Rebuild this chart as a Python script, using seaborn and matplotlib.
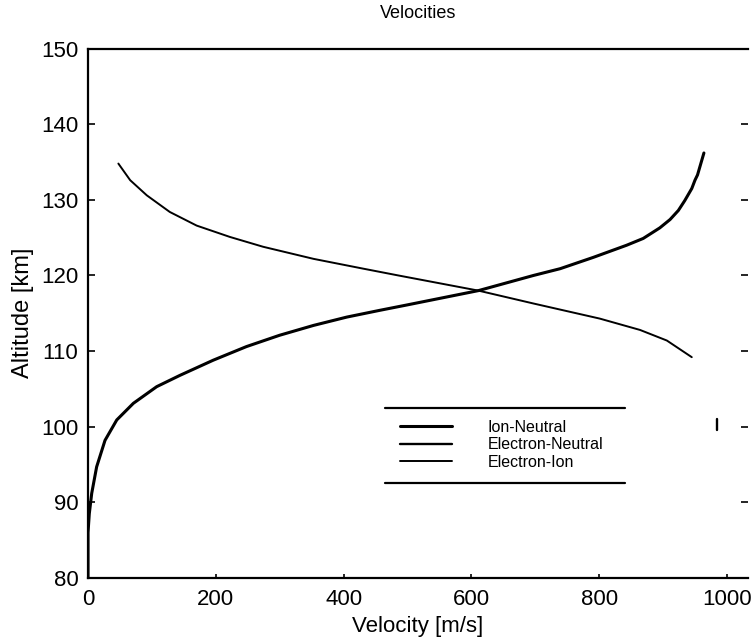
import matplotlib
matplotlib.use("Agg")
import matplotlib.pyplot as plt
import seaborn as sns
import pandas as pd

sns.set_theme(style="white")
plt.rcParams['font.family'] = ['Liberation Sans', 'DejaVu Sans']
plt.rcParams['text.color'] = 'black'
plt.rcParams['axes.labelcolor'] = 'black'

# Ion-Neutral (rising curve)
ion_neutral_v = [0, 0, 2, 5.8, 13.5, 26.6, 45, 71, 107.5, 144, 196, 248, 300, 353, 405,
                 457, 499, 611, 697, 739, 791, 843, 869, 895, 911, 924, 934, 945, 950,
                 954, 964]
ion_neutral_alt = [80, 86, 88.5, 91.2, 94.7, 98.2, 100.9, 103.1, 105.3, 106.8, 108.8, 110.6,
                   112.1, 113.4, 114.5, 115.4, 116.1, 118.0, 120.0, 120.9, 122.4, 124.0,
                   124.9, 126.3, 127.4, 128.6, 129.9, 131.5, 132.6, 133.3, 136.2]

# Electron-Ion (falling curve)
electron_ion_v = [47.5, 66, 92, 128, 170, 222, 274, 353, 431, 486, 611, 697, 801, 864, 906, 945]
electron_ion_alt = [134.8, 132.6, 130.6, 128.4, 126.6, 125.1, 123.8, 122.2, 120.9, 120.0,
                    118.0, 116.3, 114.3, 112.8, 111.4, 109.2]

# Electron-Neutral (only a small fragment survives in the scan)
electron_neutral_v = [984, 984]
electron_neutral_alt = [99.6, 101.0]

x_ticks = [0, 200, 400, 600, 800, 1000]
y_ticks = [80, 90, 100, 110, 120, 130, 140, 150]

fig = plt.figure(figsize=(7.51, 6.44), dpi=100)
ax = fig.add_axes([0.1172, 0.1025, 0.8788, 0.822])

series = [
    ("Ion-Neutral", ion_neutral_v, ion_neutral_alt, 2.2),
    ("Electron-Neutral", electron_neutral_v, electron_neutral_alt, 1.7),
    ("Electron-Ion", electron_ion_v, electron_ion_alt, 1.4),
]
handles = []
for name, v, alt, lw in series:
    df = pd.DataFrame({"v": v, "alt": alt})
    sns.lineplot(data=df, x="v", y="alt", sort=False, estimator=None, color="black",
                 linewidth=lw, ax=ax, label=name, legend=False)
    handles.append(plt.Line2D([], [], color="black", linewidth=lw, label=name))

ax.set_xlim(0, 1033)
ax.set_ylim(80, 150)
ax.set_xticks(x_ticks)
ax.set_yticks(y_ticks)
ax.tick_params(axis="both", labelsize=16, direction="in", length=5, width=1.2, colors="black")
ax.tick_params(axis="y", right=True, left=True, pad=7)
ax.tick_params(axis="x", bottom=True, pad=8, length=3)
for s in ["left", "bottom", "top"]:
    ax.spines[s].set_color("black")
    ax.spines[s].set_linewidth(1.6)
ax.spines["right"].set_visible(False)

ax.set_title("Velocities", fontsize=13, pad=22, color="black")
ax.set_xlabel("Velocity [m/s]", fontsize=16, labelpad=4, color="black")
ax.set_ylabel("Altitude [km]", fontsize=17, labelpad=5, color="black")

leg = ax.legend(handles=handles, loc="upper left", bbox_to_anchor=(0.4727, 0.2985),
                frameon=False, fontsize=11.5, handlelength=3.25, handletextpad=2.25,
                labelspacing=0.15, borderpad=0, borderaxespad=0)
for t in leg.get_texts():
    t.set_color("black")
# legend top/bottom rules
ax.plot([0.45, 0.8136], [0.321, 0.321], transform=ax.transAxes, color="black", lw=1.6)
ax.plot([0.45, 0.8136], [0.1795, 0.1795], transform=ax.transAxes, color="black", lw=1.6)

fig.savefig("out.png", dpi=100)
